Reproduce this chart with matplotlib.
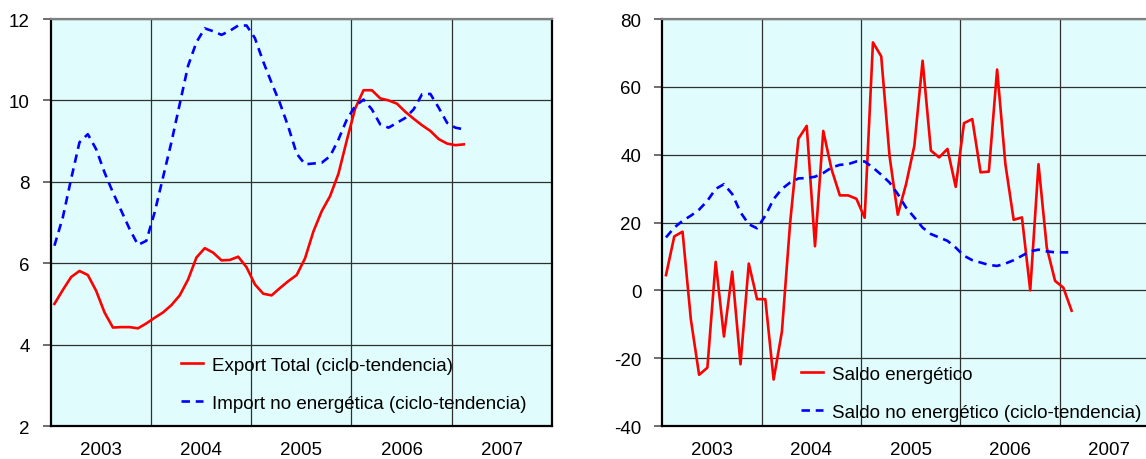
import numpy as np
import matplotlib
matplotlib.use("Agg")
import matplotlib.pyplot as plt
from matplotlib.ticker import FixedLocator, NullFormatter, FixedFormatter

plt.rcParams['font.family'] = ['Liberation Sans', 'DejaVu Sans']
plt.rcParams['axes.unicode_minus'] = False

# Datos mensuales, enero 2003 - febrero 2007
exportTotal = [5.0, 5.34, 5.66, 5.81, 5.71, 5.32, 4.79, 4.42, 4.43, 4.43, 4.40, 4.52,
               4.66, 4.79, 4.97, 5.21, 5.60, 6.14, 6.37, 6.26, 6.07, 6.08, 6.16, 5.90,
               5.48, 5.25, 5.21, 5.39, 5.56, 5.71, 6.12, 6.78, 7.28, 7.65, 8.20, 9.02,
               9.80, 10.25, 10.25, 10.05, 10.0, 9.92, 9.72, 9.55, 9.39, 9.25, 9.05, 8.94,
               8.90, 8.92]
importNoEnerg = [6.43, 7.12, 8.07, 8.97, 9.17, 8.80, 8.23, 7.74, 7.29, 6.84, 6.45, 6.55,
                 7.25, 8.11, 8.97, 9.91, 10.85, 11.43, 11.77, 11.70, 11.61, 11.71, 11.84, 11.84,
                 11.53, 10.95, 10.43, 9.93, 9.35, 8.69, 8.43, 8.45, 8.47, 8.63, 9.04, 9.53,
                 9.86, 10.02, 9.78, 9.41, 9.33, 9.45, 9.57, 9.78, 10.15, 10.16, 9.82, 9.45,
                 9.33, 9.29]

saldoEnerg = [4.5, 15.9, 17.3, -8.5, -24.9, -22.8, 8.4, -13.6, 5.5, -21.8, 7.9, -2.6,
              -2.6, -26.3, -12.2, 20.0, 44.7, 48.5, 13.0, 47.0, 35.7, 28.0, 28.0, 27.0,
              21.4, 73.1, 69.0, 39.7, 22.3, 31.3, 42.6, 67.7, 41.2, 39.2, 41.7, 30.5,
              49.3, 50.5, 34.8, 35.0, 65.1, 37.2, 20.8, 21.5, 0.0, 37.2, 12.6, 2.8,
              0.8, -6.0]
saldoNoEnerg = [15.6, 18.5, 20.5, 22.0, 23.8, 26.4, 29.9, 31.3, 28.4, 23.0, 19.5, 18.3,
                22.0, 26.9, 29.9, 31.8, 33.0, 33.1, 33.5, 34.6, 36.2, 37.0, 37.2, 38.0,
                38.0, 36.2, 34.1, 31.8, 28.4, 24.4, 21.5, 18.5, 16.6, 15.6, 14.6, 12.6,
                10.2, 8.9, 8.2, 7.5, 7.2, 7.9, 8.9, 10.2, 11.5, 12.0, 11.5, 11.2,
                11.2, 11.2]

anios = [2003, 2004, 2005, 2006, 2007]
tiempo = 2003 + (np.arange(len(exportTotal)) + 0.45) / 12

fondo = '#E0FCFC'
rojo = '#FF0000'
azul = '#0000FF'


def prepararEje(ax, yMin, yMax, yPaso):
    ax.set_facecolor(fondo)
    ax.set_xlim(2003, 2008)
    ax.set_ylim(yMin, yMax)
    ax.set_yticks(np.arange(yMin, yMax + 1, yPaso))
    ax.xaxis.set_major_locator(FixedLocator([2004, 2005, 2006, 2007]))
    ax.xaxis.set_major_formatter(NullFormatter())
    ax.xaxis.set_minor_locator(FixedLocator([a + 0.5 for a in anios]))
    ax.xaxis.set_minor_formatter(FixedFormatter([str(a) for a in anios]))
    ax.tick_params(axis='x', which='both', length=0, pad=11, labelsize=13.5)
    ax.tick_params(axis='y', direction='out', length=6, width=1.2, color='#555555',
                   pad=9, labelsize=13.5)
    ax.grid(True, which='major', color='#303030', linewidth=0.9)
    ax.set_axisbelow(True)
    for lado in ['left', 'bottom', 'right']:
        ax.spines[lado].set_color('black')
        ax.spines[lado].set_linewidth(1.6)
    ax.spines['top'].set_color('#808080')
    ax.spines['top'].set_linewidth(1.6)


def graficarPanel(ax, serieRoja, serieAzul, nombreRojo, nombreAzul, posLeyenda):
    ax.plot(tiempo, serieRoja, color=rojo, linewidth=1.9, label=nombreRojo)
    ax.plot(tiempo, serieAzul, color=azul, linewidth=1.9, dashes=(3.2, 2.2), label=nombreAzul)
    ax.legend(loc='upper left', bbox_to_anchor=posLeyenda, frameon=False, fontsize=13.5,
              handlelength=1.2, handletextpad=0.45, labelspacing=1.1,
              borderpad=0, borderaxespad=0)


fig = plt.figure(figsize=(11.46, 4.6), dpi=100)
ax1 = fig.add_axes([0.0442, 0.0717, 0.4374, 0.8848])
ax2 = fig.add_axes([0.5779, 0.0717, 0.4334, 0.8848])

prepararEje(ax1, 2, 12, 2)
graficarPanel(ax1, exportTotal, importNoEnerg, 'Export Total (ciclo-tendencia)',
              'Import no energética (ciclo-tendencia)', (0.26, 0.17))

prepararEje(ax2, -40, 80, 20)
graficarPanel(ax2, saldoEnerg, saldoNoEnerg, 'Saldo energético',
              'Saldo no energético (ciclo-tendencia)', (0.279, 0.148))

fig.savefig('out.png', dpi=100)
